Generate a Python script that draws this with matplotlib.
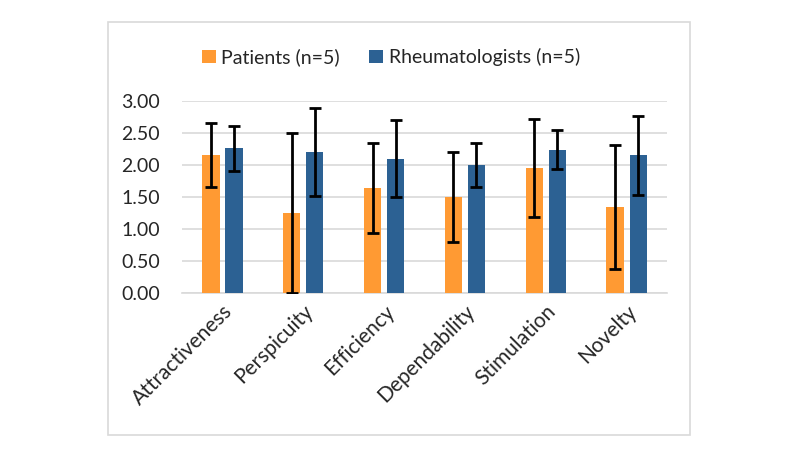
import matplotlib.pyplot as plt
import matplotlib.patches as mpatches
import numpy as np

plt.rcParams['font.family'] = ['Lato', 'DejaVu Sans']

# data
categories = ['Attractiveness', 'Perspicuity', 'Efficiency', 'Dependability', 'Stimulation', 'Novelty']
patients = [2.16, 1.25, 1.64, 1.50, 1.95, 1.35]
patients_err = [0.50, 1.25, 0.71, 0.70, 0.77, 0.97]
rheum = [2.26, 2.20, 2.10, 2.00, 2.24, 2.15]
rheum_err = [0.35, 0.69, 0.60, 0.35, 0.31, 0.62]

orange = '#FF9A33'
blue = '#2C6193'
txt = '#262626'

fig = plt.figure(figsize=(7.98, 4.54), dpi=100)
ax = fig.add_axes([0.228, 0.3546, 0.608, 0.4229])

x = np.arange(len(categories))
w = 0.215
off = 0.1425
err_kw = dict(ecolor='black', elinewidth=2, capsize=4, capthick=2)
ax.bar(x - off, patients, w, color=orange, yerr=patients_err, error_kw=err_kw, label='Patients (n=5)', zorder=3)
ax.bar(x + off, rheum, w, color=blue, yerr=rheum_err, error_kw=err_kw, label='Rheumatologists (n=5)', zorder=3)

ax.set_xlim(-0.5, len(categories) - 0.5)
ax.set_ylim(0, 3)
ax.set_yticks(np.arange(0, 3.01, 0.5))
ax.set_yticklabels(['%.2f' % v for v in np.arange(0, 3.01, 0.5)], fontsize=14, color=txt)
ax.set_xticks(x)
ax.set_xticklabels(categories, rotation=45, ha='right', rotation_mode='anchor', fontsize=15, color=txt)
ax.tick_params(axis='both', length=0)
ax.tick_params(axis='y', pad=16)
ax.tick_params(axis='x', pad=6)
ax.grid(axis='y', color='#d9d9d9', lw=1.2, zorder=0)
for s in ['top', 'right', 'left']:
    ax.spines[s].set_visible(False)
ax.spines['bottom'].set_color('#d9d9d9')
ax.spines['bottom'].set_linewidth(1.2)

leg = fig.legend(loc='center', bbox_to_anchor=(0.49, 0.874), ncol=2, frameon=False, fontsize=14,
                 handlelength=0.7, handleheight=0.7, handletextpad=0.3, columnspacing=1.5)
for t in leg.get_texts():
    t.set_color(txt)

# chart border
fig.patches.append(mpatches.Rectangle((0.135, 0.042), 0.73, 0.9095, transform=fig.transFigure,
                                      fill=False, edgecolor='#d9d9d9', lw=1.2))

fig.savefig('out.png', dpi=100)
